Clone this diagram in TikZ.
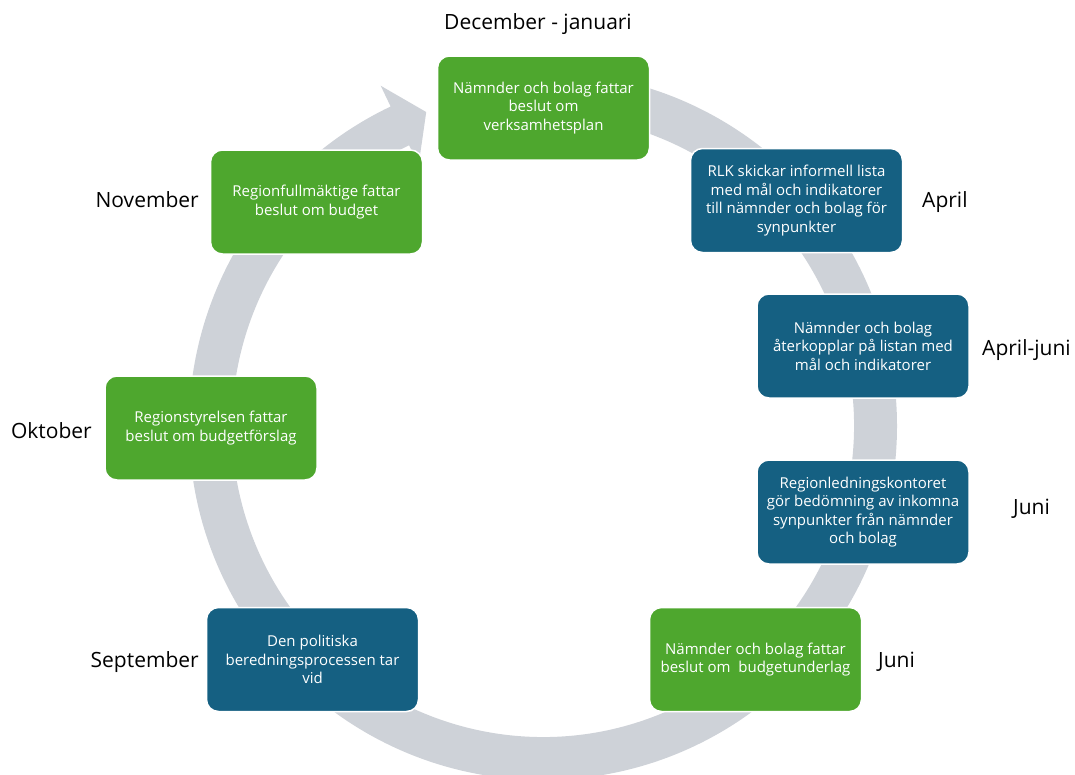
\documentclass[tikz,border=0pt]{standalone}
\usepackage{fontspec}
\setmainfont{Open Sans}
\usetikzlibrary{calc}
\definecolor{ringgray}{RGB}{206,210,216}
\definecolor{boxgreen}{HTML}{4EA72E}
\definecolor{boxblue}{HTML}{156082}
\tikzset{
  stepbox/.style={rounded corners=12pt, draw=white, line width=1.5pt, text=white,
    minimum width=212pt, minimum height=104pt, inner sep=0pt, align=center,
    font=\fontsize{15}{18.5}\selectfont},
  greenbox/.style={stepbox, fill=boxgreen},
  bluebox/.style={stepbox, fill=boxblue},
  monthlabel/.style={inner sep=0pt, font=\fontsize{21}{24}\selectfont, text=black}
}
\begin{document}
\begin{tikzpicture}[x=1pt,y=1pt]
\useasboundingbox (0,0) rectangle (1075,-774);
\coordinate (C) at (543,-426);
% ring with arrow head
\fill[ringgray] ($(C)+(90:354)$) arc[start angle=90, end angle=-244.5, radius=354]
  -- ($(C)+(115.5:377)$) -- ($(C)+(110.4:335)$) -- ($(C)+(115.5:289)$)
  -- ($(C)+(115.5:311)$) arc[start angle=-244.5, end angle=90, radius=311] -- cycle;
% boxes
\node[greenbox] (b1) at (543.5,-108) {Nämnder och bolag fattar\\beslut om\\verksamhetsplan};
\node[bluebox] (b2) at (796.5,-200.5) {RLK skickar informell lista\\med mål och indikatorer\\till nämnder och bolag för\\synpunkter};
\node[bluebox] (b3) at (863,-346) {Nämnder och bolag\\återkopplar på listan med\\mål och indikatorer};
\node[bluebox] (b4) at (863,-512) {Regionledningskontoret\\gör bedömning av inkomna\\synpunkter från nämnder\\och bolag};
\node[greenbox] (b5) at (755.5,-659.5) {Nämnder och bolag fattar\\beslut om\ \ budgetunderlag};
\node[bluebox] (b6) at (312.5,-659.5) {Den politiska\\beredningsprocessen tar\\vid};
\node[greenbox] (b7) at (211,-428) {Regionstyrelsen fattar\\beslut om budgetförslag};
\node[greenbox] (b8) at (316.5,-202) {Regionfullmäktige fattar\\beslut om budget};
% month labels
\node[monthlabel, anchor=base] (l1) at (538,-29) {December - januari};
\node[monthlabel, anchor=base west] (l2) at (922,-207) {April};
\node[monthlabel, anchor=base west] (l3) at (982,-355) {April-juni};
\node[monthlabel, anchor=base west] (l4) at (1013,-514) {Juni};
\node[monthlabel, anchor=base west] (l5) at (878,-667) {Juni};
\node[monthlabel, anchor=base east] (l6) at (199,-667) {September};
\node[monthlabel, anchor=base east] (l7) at (92,-438) {Oktober};
\node[monthlabel, anchor=base east] (l8) at (199,-207) {November};
\end{tikzpicture}
\end{document}
